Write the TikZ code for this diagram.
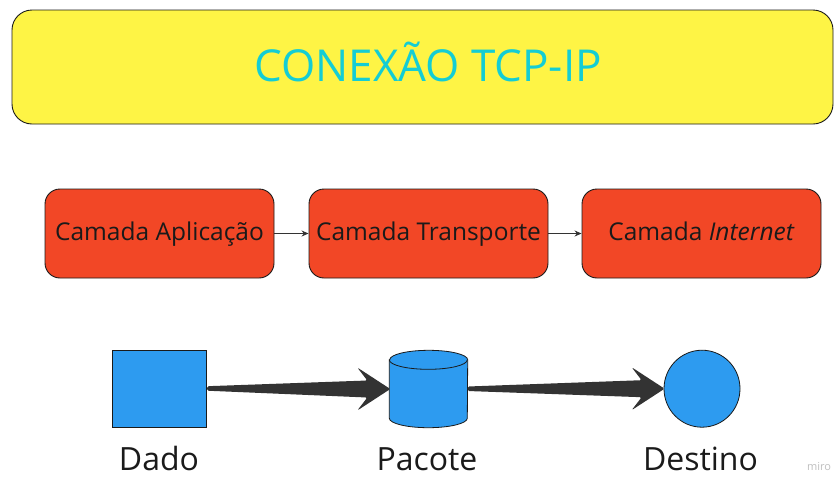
\documentclass[tikz,border=0pt]{standalone}
\usepackage{fontspec}
\setmainfont{Open Sans}
\usetikzlibrary{shapes.geometric,calc,arrows.meta}
\definecolor{myyellow}{HTML}{FEF445}
\definecolor{myred}{HTML}{F24726}
\definecolor{myblue}{HTML}{2D9BF0}
\definecolor{mycyan}{HTML}{14CDD4}
\definecolor{mydark}{HTML}{1A1A1A}
\definecolor{myarrow}{HTML}{333333}
\tikzset{
  titlebox/.style={draw=mydark, line width=0.9pt, fill=myyellow, rounded corners=20pt, minimum width=821pt, minimum height=114pt, inner sep=0pt},
  layer/.style={draw=mydark, line width=0.9pt, fill=myred, rounded corners=15pt, minimum height=89pt, inner sep=0pt, text=mydark, text height=20pt, text depth=5.6pt, font=\fontsize{24.5}{28}\selectfont},
  thinarrow/.style={draw=myarrow, line width=1pt, -{Stealth[length=7pt,width=6pt]}},
  blueshape/.style={draw=mydark, line width=0.8pt, fill=myblue, inner sep=0pt},
  lbl/.style={text=mydark, font=\fontsize{32}{36}\selectfont, inner sep=0pt, anchor=base},
}
\newcommand{\bigarrow}[2]{%
  \fill[myarrow, rounded corners=1.5pt]
    ($(#1)+(0,-2.5)$) -- ($(#2)+(-22,-8.5)$) -- ($(#2)+(-32,-21.5)$) -- ($(#2)+(1,0)$)
    -- ($(#2)+(-32,21.5)$) -- ($(#2)+(-22,8.5)$) -- ($(#1)+(0,2)$) -- cycle;}
\begin{document}
\begin{tikzpicture}[x=1pt,y=-1pt]
\useasboundingbox (0,0) rectangle (834,477);
\node[titlebox] (title) at (422.5,67) {};
\node[text=mycyan, font=\fontsize{44}{50}\selectfont, inner sep=0pt] (titletext) at (428,62) {CONEXÃO TCP-IP};

\node[layer, minimum width=229pt] (app) at (159.5,233.5) {Camada Aplicação};
\node[layer, minimum width=239pt] (trans) at (428.5,233.5) {Camada Transporte};
\node[layer, minimum width=239pt] (inet) at (701.5,233.5) {Camada \textit{Internet}};
\draw[thinarrow] (app) -- (trans);
\draw[thinarrow] (trans) -- (inet);

\node[blueshape, rectangle, minimum width=94pt, minimum height=77pt] (dado) at (159.7,388.7) {};
% cylinder
\node[inner sep=0pt, minimum width=78pt, minimum height=77pt] (pacote) at (428.5,389) {};
\filldraw[blueshape] ($(pacote.north west)+(0,9.5)$) -- ($(pacote.south west)+(0,-9.5)$)
  arc[start angle=180, end angle=360, x radius=39pt, y radius=9.5pt]
  -- ($(pacote.north east)+(0,9.5)$)
  arc[start angle=0, end angle=180, x radius=39pt, y radius=9.5pt] -- cycle;
\draw[draw=mydark, line width=0.8pt] ($(pacote.north west)+(0,9.5)$)
  arc[start angle=180, end angle=360, x radius=39pt, y radius=9.5pt];
\node[blueshape, ellipse, minimum width=76pt, minimum height=77pt] (destino) at (702,388.7) {};

\coordinate (a1s) at (dado.east);
\coordinate (a1e) at (pacote.west);
\coordinate (a2s) at (pacote.east);
\coordinate (a2e) at (destino.west);
\bigarrow{a1s}{a1e}
\bigarrow{a2s}{a2e}

\node[lbl] (ldado) at (159,470.5) {Dado};
\node[lbl] (lpacote) at (427,470.5) {Pacote};
\node[lbl] (ldestino) at (700.5,470.5) {Destino};
\node[text=black!25, font=\fontsize{11}{13}\selectfont, inner sep=0pt] (miro) at (819,467) {miro};
\end{tikzpicture}
\end{document}
